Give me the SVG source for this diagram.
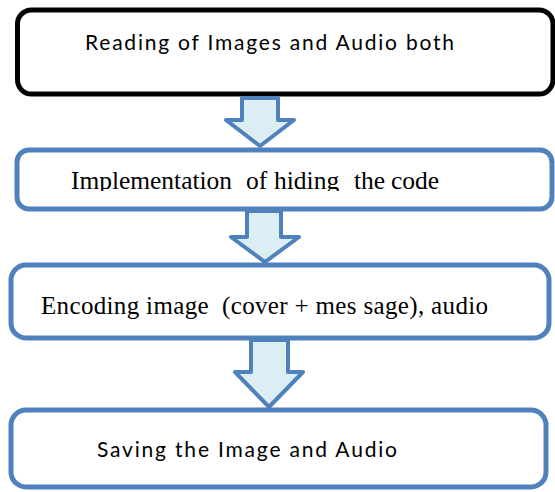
<svg xmlns="http://www.w3.org/2000/svg" width="555" height="492" viewBox="0 0 555 492">
<style>
.box{fill:#FFFFFF;stroke:#4F81BD;stroke-width:5}
.box1{fill:#FFFFFF;stroke:#000000;stroke-width:5}
.arrow{fill:#DBEEF4;stroke:#4F81BD;stroke-width:4;stroke-linejoin:round}
.sans{font-family:Lato,"Liberation Sans",sans-serif;font-size:21px;fill:#000}
.serif{font-family:"Liberation Serif","Times New Roman",serif;fill:#000;white-space:pre}
</style>
<defs>
<clipPath id="clip2"><rect x="0" y="150" width="555" height="41"/></clipPath>
</defs>
<rect width="555" height="492" fill="#FFFFFF"/>
<g id="node1">
<rect class="box1" x="17.5" y="10" width="535.5" height="84" rx="14"/>
<text class="sans" x="85" y="50" textLength="369" lengthAdjust="spacing">Reading of Images and Audio both</text>
</g>
<g id="node2">
<rect class="box" x="17" y="150" width="535" height="59" rx="12"/>
<g clip-path="url(#clip2)">
<text class="serif" font-size="25.5" y="189"><tspan x="71" textLength="161" lengthAdjust="spacingAndGlyphs">Implementation</tspan><tspan x="246">of</tspan><tspan x="274">hiding</tspan><tspan x="354">the</tspan><tspan x="391">code</tspan></text>
</g>
</g>
<g id="node3">
<rect class="box" x="11" y="265" width="538" height="73" rx="15"/>
<text class="serif" font-size="25" x="41" y="314" textLength="447" lengthAdjust="spacing">Encoding image  (cover + mes sage), audio</text>
</g>
<g id="node4">
<rect class="box" x="11" y="410" width="535" height="77" rx="15"/>
<text class="sans" x="97" y="457" textLength="300" lengthAdjust="spacing">Saving the Image and Audio</text>
</g>
<g id="connectors">
<polygon class="arrow" points="242,98 278,98 278,120 294,120 260,146 226,120 242,120"/>
<polygon class="arrow" points="247,211 281,211 281,237 299,237 265,262 231,237 247,237"/>
<polygon class="arrow" points="251,340 288,340 288,372 303,372 269,407 235,372 251,372"/>
</g>
</svg>
